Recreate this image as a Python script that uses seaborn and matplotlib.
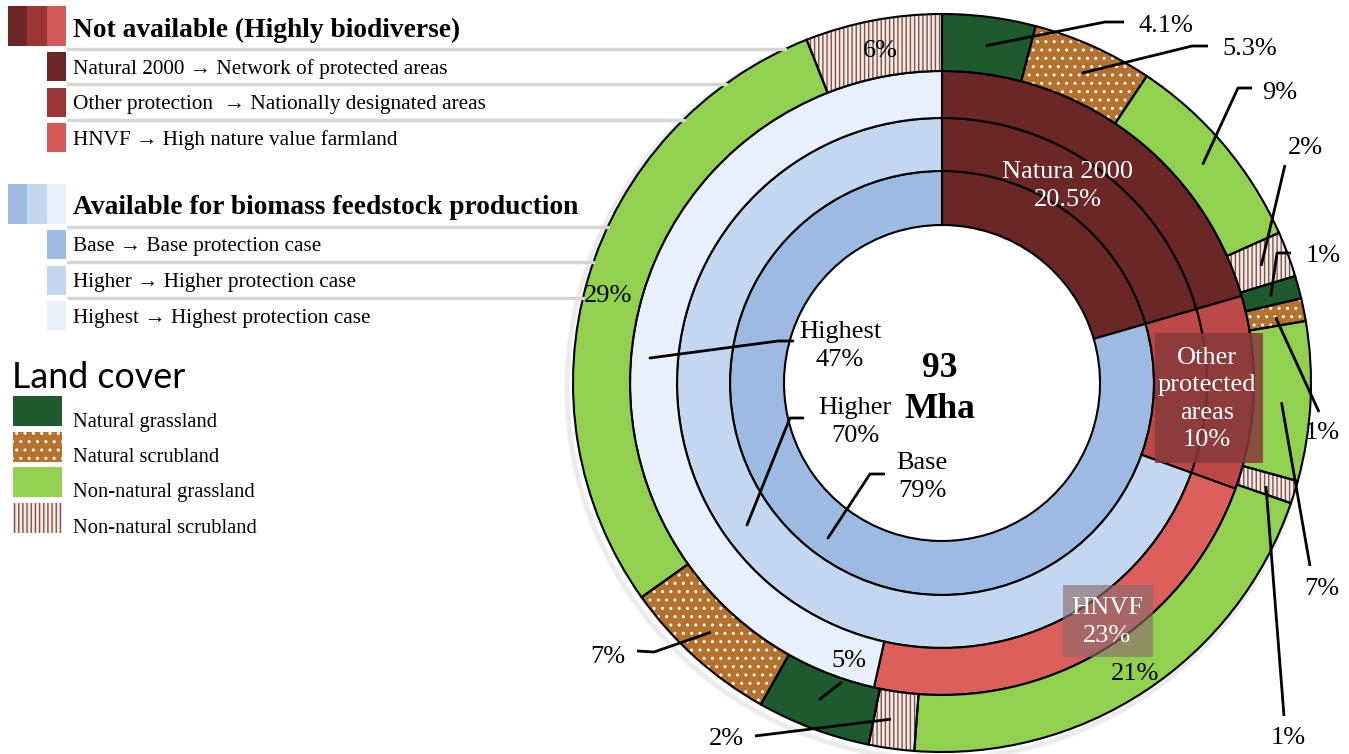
import matplotlib
matplotlib.use("Agg")

import matplotlib.pyplot as plt
import numpy as np
import seaborn as sns
from matplotlib.patches import Circle, Rectangle

# --- data -------------------------------------------------------------
total_label = "93\nMha"

protect_names = ["Natura 2000", "Other\nprotected\nareas", "HNVF"]
protect_shares = [20.5, 10.0, 23.0]
protect_labels = ["20.5%", "10%", "23%"]

case_names = ["Base", "Higher", "Highest"]
case_available = [79.5, 69.5, 46.5]
case_labels = ["79%", "70%", "47%"]

# outer ring, clockwise from 12 o'clock
landcover_types = [
    "ng", "ns", "nng", "nns",
    "ng", "ns", "nng", "nns",
    "nng", "nns",
    "ng", "ns", "nng", "nns",
]
landcover_shares = [4.1, 5.3, 9, 2, 1, 1, 7, 1, 21, 2, 5, 7, 29, 6]
landcover_labels = ["4.1%", "5.3%", "9%", "2%", "1%", "1%", "7%", "1%",
                    "21%", "2%", "5%", "7%", "29%", "6%"]

legend_protect = [
    "Natural 2000 \u2192 Network of protected areas",
    "Other protection  \u2192 Nationally designated areas",
    "HNVF \u2192 High nature value farmland",
]
legend_cases = [
    "Base \u2192 Base protection case",
    "Higher \u2192 Higher protection case",
    "Highest \u2192 Highest protection case",
]
legend_cover = ["Natural grassland", "Natural scrubland",
                "Non-natural grassland", "Non-natural scrubland"]

# --- styles -----------------------------------------------------------
PROTECT_COLORS = ["#6b2626", "#bd4848", "#dc5f5b"]
LEGEND_RED = ["#6b2626", "#9c3535", "#d45a5a"]
CASE_COLORS = ["#9dbbe2", "#c4d7f0", "#e7f0fb"]
COVER_STYLE = {
    "ng": dict(face="#1f5a2f", hatch=None, hc="#1f5a2f"),
    "ns": dict(face="#b5722f", hatch="..", hc="#ffffff"),
    "nng": dict(face="#92d050", hatch=None, hc="#92d050"),
    "nns": dict(face="#f4e8e4", hatch="||||", hc="#7a5548"),
}
SERIF = ["Liberation Serif", "DejaVu Serif"]
LABEL_FS = 19

CX, CY = 942, 383
RING_EDGES = [158, 212, 265, 312, 369]
EDGE_LW = 1.5

sns.set_theme(style="white")
plt.rcParams["font.family"] = SERIF
plt.rcParams["text.color"] = "black"
plt.rcParams["hatch.linewidth"] = 1.0

fig = plt.figure(figsize=(13.49, 7.54), dpi=100)
ax = fig.add_axes([0, 0, 1, 1])
ax.set_xlim(0, 1349)
ax.set_ylim(754, 0)
ax.axis("off")


def polar(angle_pct, r):
    theta = np.deg2rad(-90 + angle_pct * 3.6)
    return CX + r * np.cos(theta), CY + r * np.sin(theta)


# soft shadow towards the lower left
for s in range(5):
    ax.add_patch(Circle((CX - 4, CY + 5), RING_EDGES[4] + s * 1.0,
                        facecolor="none", edgecolor="black",
                        alpha=0.035, lw=1.6, zorder=0.5))

# --- inner rings: base / higher / highest -----------------------------
for k in range(3):
    vals = protect_shares[:k + 1] + [case_available[k]]
    cols = PROTECT_COLORS[:k + 1] + [CASE_COLORS[k]]
    ax.pie(vals, colors=cols, radius=RING_EDGES[k + 1], center=(CX, CY),
           startangle=-90, counterclock=True, frame=True,
           wedgeprops=dict(width=RING_EDGES[k + 1] - RING_EDGES[k],
                           edgecolor="black", linewidth=EDGE_LW))

# --- outer ring: land cover -------------------------------------------
faces = [COVER_STYLE[t]["face"] for t in landcover_types]
wedges, _ = ax.pie(landcover_shares, colors=faces, radius=RING_EDGES[4],
                   center=(CX, CY), startangle=-90, counterclock=True,
                   frame=True, wedgeprops=dict(width=RING_EDGES[4] - RING_EDGES[3],
                                               linewidth=0))
for w, t in zip(wedges, landcover_types):
    st = COVER_STYLE[t]
    if st["hatch"]:
        w.set_hatch(st["hatch"])
    w.set_edgecolor(st["hc"])
ax.pie(landcover_shares, colors=["none"] * len(landcover_shares),
       radius=RING_EDGES[4], center=(CX, CY), startangle=-90,
       counterclock=True, frame=True,
       wedgeprops=dict(width=RING_EDGES[4] - RING_EDGES[3],
                       edgecolor="black", linewidth=EDGE_LW))

# outer labels: (text x, text y, leader path end points)
outer_layout = {
    0: (1166, 26, [(1105, 22), (1124, 22)]),
    1: (1250, 49, [(1192, 46), (1208, 46)]),
    2: (1280, 93, [(1238, 88), (1252, 88)]),
    3: (1305, 148, [(1285, 165)]),
    4: (1323, 256, [(1277, 253), (1291, 253)]),
    5: (1322, 433, [(1319, 412)]),
    6: (1322, 589, [(1310, 566)]),
    7: (1288, 738, [(1284, 716)]),
    8: (1135, 674, None),
    9: (726, 739, [(755, 736)]),
    10: (849, 661, [(842, 682)]),
    11: (608, 657, [(654, 652), (637, 651)]),
    12: (608, 296, None),
    13: (880, 51, None),
}
cum = np.cumsum([0] + landcover_shares)
for i, lab in enumerate(landcover_labels):
    tx, ty, path = outer_layout[i]
    ax.text(tx, ty, lab, ha="center", va="center", fontsize=LABEL_FS, zorder=6)
    if path:
        sx, sy = polar(cum[i] + landcover_shares[i] / 2, 340)
        xs = [sx] + [p[0] for p in path]
        ys = [sy] + [p[1] for p in path]
        ax.plot(xs, ys, color="black", lw=2.0, solid_capstyle="butt", zorder=5)

# --- inner labels ------------------------------------------------------
ax.text(1068, 186, protect_names[0] + "\n" + protect_labels[0], color="white",
        ha="center", va="center", fontsize=LABEL_FS, linespacing=1.3, zorder=6)
ax.add_patch(Rectangle((1155, 333), 108, 130, facecolor="#86393a",
                       alpha=0.85, edgecolor="none", zorder=4))
ax.text(1207, 399, protect_names[1] + "\n" + protect_labels[1], color="white",
        ha="center", va="center", fontsize=LABEL_FS, linespacing=1.3, zorder=6)
ax.add_patch(Rectangle((1063, 585), 90, 72, facecolor="#8c6c6c",
                       alpha=0.65, edgecolor="none", zorder=4))
ax.text(1107, 622, protect_names[2] + "\n" + protect_labels[2], color="white",
        ha="center", va="center", fontsize=LABEL_FS, linespacing=1.3, zorder=6)

case_layout = {
    "Highest": (840, 346, [(650, 358), (778, 341), (793, 341)]),
    "Higher": (855, 422, [(747, 525), (790, 418), (803, 418)]),
    "Base": (922, 477, [(828, 538), (870, 474), (884, 474)]),
}
for name, lab in zip(case_names, case_labels):
    tx, ty, path = case_layout[name]
    ax.text(tx, ty, name + "\n" + lab, ha="center", va="center",
            fontsize=LABEL_FS, linespacing=1.3, zorder=6)
    ax.plot([p[0] for p in path], [p[1] for p in path], color="black",
            lw=2.0, zorder=5)

ax.text(940, 389, total_label, ha="center", va="center", fontsize=25.5,
        fontweight="bold", linespacing=1.35, zorder=6)

# --- legend --------------------------------------------------------------
R_OUT = RING_EDGES[4]


def rule(y):
    x_end = CX - np.sqrt(max(R_OUT ** 2 - (y - CY) ** 2, 0))
    ax.plot([68, x_end], [y, y], color="#d6d6d6", lw=2.5, zorder=1)


def legend_group(top, header, colors, items):
    for j, c in enumerate(colors):
        ax.add_patch(Rectangle((8 + 19.3 * j, top), 19.3, 40,
                               facecolor=c, edgecolor="none"))
    ax.text(73, top + 24, header, fontsize=19.8, fontweight="bold",
            va="center", ha="left")
    rule(top + 43)
    for j, (c, txt) in enumerate(zip(colors, items)):
        y0 = top + 46 + 35.5 * j
        ax.add_patch(Rectangle((47, y0), 19, 29, facecolor=c, edgecolor="none"))
        ax.text(73, y0 + 17, txt, fontsize=15.3, va="center", ha="left")
        if j < len(items) - 1:
            rule(y0 + 32)


legend_group(6, "Not available (Highly biodiverse)", LEGEND_RED, legend_protect)
legend_group(184, "Available for biomass feedstock production",
             CASE_COLORS, legend_cases)

ax.text(12, 378, "Land cover", fontsize=25.8, va="center", ha="left",
        family=["Lato", "DejaVu Sans"])
for j, (t, txt) in enumerate(zip(["ng", "ns", "nng", "nns"], legend_cover)):
    st = COVER_STYLE[t]
    y0 = 396 + 35.5 * j
    ax.add_patch(Rectangle((13, y0), 49, 30, facecolor=st["face"],
                           edgecolor=st["hc"], hatch=st["hatch"], linewidth=0))
    ax.text(73, y0 + 26, txt, fontsize=14.8, va="center", ha="left")

ax.set_xlim(0, 1349)
ax.set_ylim(754, 0)
fig.savefig("out.png", dpi=100)
